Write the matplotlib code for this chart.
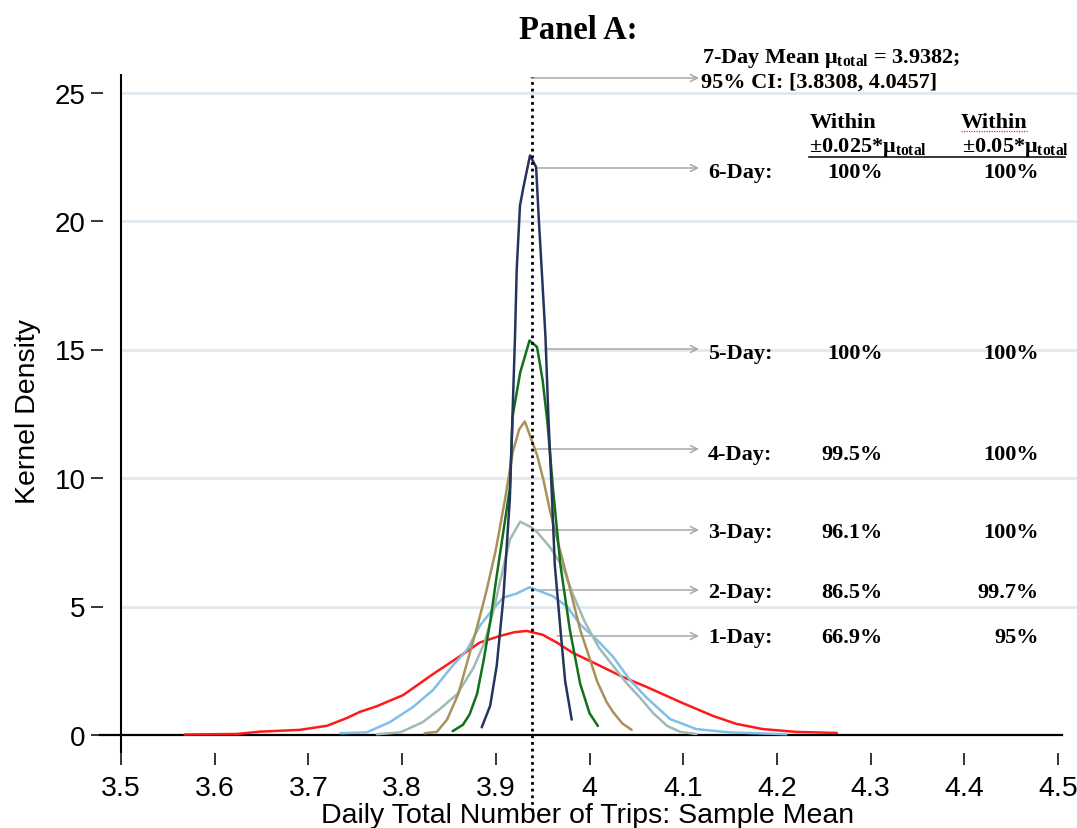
import matplotlib
matplotlib.use("Agg")
import matplotlib.pyplot as plt
from matplotlib.lines import Line2D

# ---------------- data ----------------
mean_7day = 3.9382

x_1day = [3.568, 3.624, 3.648, 3.691, 3.720, 3.741, 3.755, 3.773, 3.801, 3.833, 3.859,
          3.883, 3.904, 3.920, 3.933, 3.950, 3.965, 3.982, 4.008, 4.036, 4.061, 4.097,
          4.132, 4.157, 4.185, 4.221, 4.264]
y_1day = [0.02, 0.04, 0.13, 0.20, 0.36, 0.66, 0.90, 1.12, 1.55, 2.37, 3.00,
          3.60, 3.85, 4.00, 4.05, 3.90, 3.60, 3.20, 2.75, 2.25, 1.87, 1.28,
          0.74, 0.43, 0.23, 0.12, 0.08]

x_2day = [3.734, 3.762, 3.787, 3.812, 3.833, 3.854, 3.869, 3.883, 3.897, 3.908, 3.922,
          3.936, 3.961, 3.976, 3.990, 4.008, 4.025, 4.043, 4.061, 4.086, 4.114, 4.150, 4.210]
y_2day = [0.07, 0.10, 0.50, 1.10, 1.75, 2.70, 3.30, 4.25, 4.90, 5.35, 5.50,
          5.75, 5.40, 5.00, 4.30, 3.70, 3.05, 2.15, 1.45, 0.62, 0.23, 0.10, 0.03]

x_3day = [3.773, 3.798, 3.822, 3.840, 3.859, 3.876, 3.888, 3.898, 3.906, 3.915, 3.926,
          3.937, 3.944, 3.958, 3.972, 3.982, 3.995, 4.010, 4.025, 4.040, 4.054, 4.068,
          4.083, 4.097, 4.114]
y_3day = [0.03, 0.10, 0.50, 1.00, 1.60, 2.60, 3.60, 4.90, 6.20, 7.60, 8.30,
          8.10, 7.90, 7.30, 6.50, 5.50, 4.40, 3.40, 2.70, 2.00, 1.45, 0.85,
          0.35, 0.12, 0.04]

x_4day = [3.824, 3.837, 3.848, 3.860, 3.870, 3.880, 3.890, 3.900, 3.910, 3.918, 3.925,
          3.931, 3.937, 3.944, 3.951, 3.958, 3.967, 3.976, 3.990, 4.000, 4.008, 4.018,
          4.025, 4.035, 4.045]
y_4day = [0.07, 0.12, 0.60, 1.60, 2.90, 4.20, 5.60, 7.20, 9.20, 11.0, 11.9,
          12.2, 11.6, 10.9, 9.9, 8.7, 7.4, 6.15, 4.1, 3.0, 2.1, 1.3,
          0.9, 0.45, 0.2]

x_5day = [3.854, 3.865, 3.872, 3.880, 3.887, 3.894, 3.901, 3.908, 3.915, 3.918, 3.926,
          3.936, 3.944, 3.950, 3.955, 3.961, 3.969, 3.979, 3.990, 4.000, 4.009]
y_5day = [0.15, 0.40, 0.80, 1.60, 2.90, 4.40, 6.20, 7.90, 9.60, 12.4, 14.1,
          15.35, 15.1, 13.8, 12.2, 9.6, 6.6, 4.1, 2.0, 0.85, 0.35]

x_6day = [3.885, 3.894, 3.901, 3.908, 3.915, 3.917, 3.9205, 3.9223, 3.9258, 3.9294, 3.9365,
          3.943, 3.946, 3.949, 3.953, 3.956, 3.960, 3.963, 3.969, 3.974, 3.981]
y_6day = [0.30, 1.14, 2.70, 5.30, 9.20, 11.5, 15.5, 18.1, 20.6, 21.3, 22.55,
          22.1, 20.0, 18.1, 15.5, 12.5, 9.2, 6.6, 4.1, 2.1, 0.6]

series_names = ["1-Day", "2-Day", "3-Day", "4-Day", "5-Day", "6-Day"]
series_x = [x_1day, x_2day, x_3day, x_4day, x_5day, x_6day]
series_y = [y_1day, y_2day, y_3day, y_4day, y_5day, y_6day]
series_colors = ["#ff1a1a", "#80bfe8", "#9fbab2", "#a8925a", "#12701a", "#27335f"]

within_025 = ["66.9%", "86.5%", "96.1%", "99.5%", "100%", "100%"]
within_05 = ["95%", "99.7%", "100%", "100%", "100%", "100%"]

x_ticks = [3.5, 3.6, 3.7, 3.8, 3.9, 4.0, 4.1, 4.2, 4.3, 4.4, 4.5]
x_tick_labels = ["3.5", "3.6", "3.7", "3.8", "3.9", "4", "4.1", "4.2", "4.3", "4.4", "4.5"]
y_ticks = [0, 5, 10, 15, 20, 25]

# ---------------- layout (pixel geometry) ----------------
W, H = 1077, 829
X0, XS = 121.0, 937.0      # pixel of x=3.5, pixels per unit
Y0, YS = 736.0, 25.7       # pixel of y=0, pixels per unit
AX_L, AX_R, AX_T, AX_B = 103, 1077, 75, 754


def fx(px):
    return px / W


def fy(py):
    return 1 - py / H


plt.rcParams["mathtext.fontset"] = "custom"
plt.rcParams["mathtext.rm"] = "Liberation Serif:bold"
plt.rcParams["mathtext.it"] = "Liberation Serif:bold"
plt.rcParams["mathtext.bf"] = "Liberation Serif:bold"

SANS = ["Liberation Sans", "DejaVu Sans"]
SERIF = ["Liberation Serif", "DejaVu Serif"]

fig = plt.figure(figsize=(W / 100, H / 100), dpi=100)
ax = fig.add_axes([fx(AX_L), fy(AX_B), (AX_R - AX_L) / W, (AX_B - AX_T) / H])

xlim = (3.5 - (X0 - AX_L) / XS, 3.5 + (AX_R - X0) / XS)
ylim = ((Y0 - AX_B) / YS, (Y0 - AX_T) / YS)
ax.set_xlim(*xlim)
ax.set_ylim(*ylim)

for s in ax.spines.values():
    s.set_visible(False)

# grid lines (start at the y axis line)
grid_xmin = (X0 - AX_L) / (AX_R - AX_L)
for v in y_ticks[1:]:
    ax.axhline(v, xmin=grid_xmin, xmax=1, color="#e1e9ef", lw=2.0, zorder=0)

# y axis line and zero line
ax.axvline(3.5, ymin=0, ymax=1, color="black", lw=1.5, zorder=3)
ax.axhline(0, xmin=(100 - AX_L) / (AX_R - AX_L), xmax=(1062 - AX_L) / (AX_R - AX_L),
           color="black", lw=1.6, zorder=3, clip_on=False)

# curves
for xs, ys, c in zip(series_x, series_y, series_colors):
    ax.plot(xs, ys, color=c, lw=1.8, zorder=4, solid_joinstyle="round",
            solid_capstyle="round")

# dotted mean line
yr = ylim[1] - ylim[0]
ax.axvline(mean_7day, ymin=((Y0 - 812) / YS - ylim[0]) / yr,
           ymax=((Y0 - 78) / YS - ylim[0]) / yr,
           color="black", lw=2.0, linestyle=(0, (1, 1.4)), clip_on=False, zorder=5)

# ticks
ax.set_xticks(x_ticks)
ax.set_xticklabels(x_tick_labels)
ax.set_yticks(y_ticks)
ax.set_yticklabels([str(v) for v in y_ticks])
ax.tick_params(axis="x", direction="out", length=8.6, width=1.1, pad=7.5,
               labelsize=20.5, colors="black")
ax.tick_params(axis="y", direction="out", length=8.6, width=1.1, pad=4.0,
               labelsize=20, colors="black")
for lab in ax.get_xticklabels() + ax.get_yticklabels():
    lab.set_family(SANS)

# axis labels
fig.text(fx(588), fy(823), "Daily Total Number of Trips: Sample Mean", ha="center",
         va="baseline", fontsize=20.5, family=SANS)
fig.text(fx(28), fy(412), "Kernel Density", ha="center", va="center", rotation=90,
         fontsize=20.5, family=SANS)

# title
fig.text(fx(519), fy(39), "Panel A:", ha="left", va="baseline", fontsize=23.5,
         family=SERIF, weight="bold")

TS = 16
tkw = dict(family=SERIF, weight="bold", fontsize=TS, va="baseline")
fig.text(fx(702), fy(63), r"7-Day Mean $\mu_{total}$ = 3.9382;", ha="left", **tkw)
fig.text(fx(701), fy(88), "95% CI: [3.8308, 4.0457]", ha="left", **tkw)
fig.text(fx(810), fy(128), "Within", ha="left", **tkw)
fig.text(fx(809), fy(152), r"±0.025*$\mu_{total}$", ha="left", **tkw)
fig.text(fx(961), fy(128), "Within", ha="left", **tkw)
fig.text(fx(962), fy(152), r"±0.05*$\mu_{total}$", ha="left", **tkw)
fig.add_artist(Line2D([fx(809), fx(1065)], [fy(157.5), fy(157.5)], color="black",
                      lw=1.1, transform=fig.transFigure))
# spell-check squiggle under the second "Within"
fig.add_artist(Line2D([fx(961), fx(1027)], [fy(131.5), fy(131.5)], color="#e03030",
                      lw=0.9, linestyle=(0, (1, 1)), transform=fig.transFigure))

arrow_kw = dict(arrowstyle="->,head_length=0.5,head_width=0.25", color="#a8a8a8", lw=1.1,
                shrinkA=0, shrinkB=0)
# CI arrow from mean line
ax.annotate("", xy=(fx(699), fy(79)), xycoords="figure fraction",
            xytext=(fx(531), fy(79)), textcoords="figure fraction", arrowprops=arrow_kw)

# row layout: (arrow start px, arrow y px, text baseline px) for 1-Day..6-Day
row_arrow_start = [557, 534, 536, 537, 545, 537]
row_arrow_y = [637, 591, 531, 450, 350, 169]
row_baseline = [643, 598, 538, 460, 359, 178]

for i, name in enumerate(series_names):
    ax.annotate("", xy=(fx(699), fy(row_arrow_y[i])), xycoords="figure fraction",
                xytext=(fx(row_arrow_start[i]), fy(row_arrow_y[i])),
                textcoords="figure fraction", arrowprops=arrow_kw)
    fig.text(fx(708), fy(row_baseline[i]), name + ":", ha="left", **tkw)
    fig.text(fx(883), fy(row_baseline[i]), within_025[i], ha="right", **tkw)
    fig.text(fx(1039), fy(row_baseline[i]), within_05[i], ha="right", **tkw)

fig.savefig("out.png", dpi=100, facecolor="white")
